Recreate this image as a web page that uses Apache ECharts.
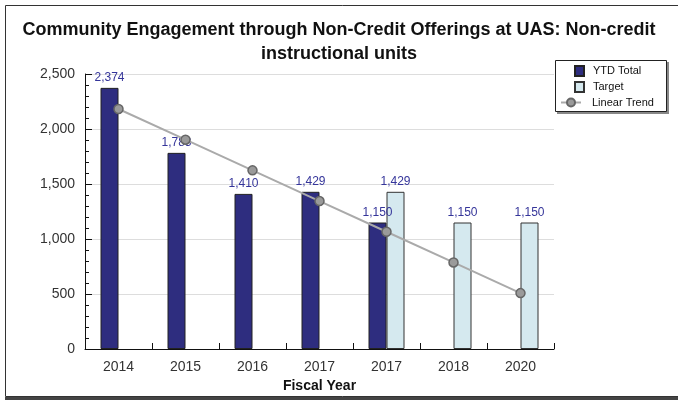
<!DOCTYPE html>
<html>
<head>
<meta charset="utf-8">
<script src="https://cdn.jsdelivr.net/npm/echarts@6/dist/echarts.min.js"></script>
<style>
html,body{margin:0;padding:0;background:#fff;}
#chart{width:678px;height:400px;}
</style>
</head>
<body>
<div id="chart"></div>
<script>
const categories = ['2014', '2015', '2016', '2017', '2017', '2018', '2020'];
const ytdTotal = [2374, 1783, 1410, 1429, 1150, null, null];
const target = [null, null, null, null, 1429, 1150, 1150];
const linearTrend = [2182, 1903, 1624, 1345, 1066, 787, 508];
const yTicks = [0, 500, 1000, 1500, 2000, 2500];

const FONT = '"Liberation Sans", Arial, sans-serif';
const fmt = v => Number(v).toLocaleString('en-US');

const chart = echarts.init(document.getElementById('chart'), null, {renderer: 'canvas'});
chart.setOption({
  animation: false,
  backgroundColor: '#fff',
  title: {
    text: 'Community Engagement through Non-Credit Offerings at UAS: Non-credit\ninstructional units',
    left: 'center',
    top: 13,
    textStyle: {fontFamily: FONT, fontSize: 18, fontWeight: 'bold', color: '#111', lineHeight: 24}
  },
  graphic: [
    {type: 'rect', z: -10, shape: {x: 5.5, y: 5.5, width: 700, height: 391}, style: {fill: 'none', stroke: '#333', lineWidth: 1}},
    {type: 'rect', z: -10, shape: {x: 5, y: 397, width: 680, height: 3}, style: {fill: '#444'}},
    {type: 'rect', z: 5, shape: {x: 557, y: 62, width: 112, height: 52}, style: {fill: '#888'}},
    {type: 'rect', z: 6, shape: {x: 555.5, y: 60.5, width: 111, height: 51}, style: {fill: '#fff', stroke: '#222', lineWidth: 1}}
  ],
  legend: [
    {
      data: ['YTD Total', 'Target'],
      orient: 'vertical', left: 569, top: 60, itemWidth: 9, itemHeight: 10, itemGap: 4,
      icon: 'rect', z: 10,
      textStyle: {fontFamily: FONT, fontSize: 11, color: '#111', padding: [0, 0, 0, 4]}
    },
    {
      data: ['Linear Trend'],
      orient: 'vertical', left: 555, top: 92, itemWidth: 20, itemHeight: 10, z: 10,
      textStyle: {fontFamily: FONT, fontSize: 11, color: '#111', padding: [0, 0, 0, 6]}
    }
  ],
  grid: {left: 85, right: 124, top: 74, bottom: 51, containLabel: false},
  xAxis: {
    type: 'category',
    data: categories,
    name: 'Fiscal Year',
    nameLocation: 'middle',
    nameGap: 30,
    nameTextStyle: {fontFamily: FONT, fontSize: 14, fontWeight: 'bold', color: '#111'},
    axisLine: {lineStyle: {color: '#111', width: 1}},
    axisTick: {show: true, inside: true, length: 6, alignWithLabel: false, lineStyle: {color: '#111'}},
    axisLabel: {fontFamily: FONT, fontSize: 14, color: '#333', margin: 11},
    splitLine: {show: false}
  },
  yAxis: {
    type: 'value',
    min: yTicks[0],
    max: yTicks[yTicks.length - 1],
    interval: 500,
    axisLine: {show: true, lineStyle: {color: '#111', width: 1}},
    axisTick: {show: true, inside: true, length: 7, lineStyle: {color: '#111'}},
    minorTick: {show: true, splitNumber: 5, length: 4, lineStyle: {color: '#111'}},
    axisLabel: {fontFamily: FONT, fontSize: 14, color: '#333', margin: 10, formatter: v => fmt(v)},
    splitLine: {show: true, lineStyle: {color: '#dddddd', width: 1}}
  },
  series: [
    {
      name: 'YTD Total', type: 'bar', data: ytdTotal, barWidth: 18, barGap: '0%',
      itemStyle: {color: '#2E2D7F', borderColor: '#222', borderWidth: 1},
      label: {show: true, position: 'top', distance: 4, fontFamily: FONT, fontSize: 12, color: '#35359A', formatter: p => fmt(p.value)}
    },
    {
      name: 'Target', type: 'bar', data: target, barWidth: 18, barGap: '0%',
      itemStyle: {color: '#D5E9EF', borderColor: '#333', borderWidth: 1},
      label: {show: true, position: 'top', distance: 4, fontFamily: FONT, fontSize: 12, color: '#35359A', formatter: p => fmt(p.value)}
    },
    {
      name: 'Linear Trend', type: 'line', data: linearTrend, z: 4,
      symbol: 'circle', symbolSize: 9,
      lineStyle: {color: '#aaaaaa', width: 2},
      itemStyle: {color: '#9a9a9a', borderColor: '#666', borderWidth: 1.5}
    }
  ]
});
</script>
</body>
</html>
